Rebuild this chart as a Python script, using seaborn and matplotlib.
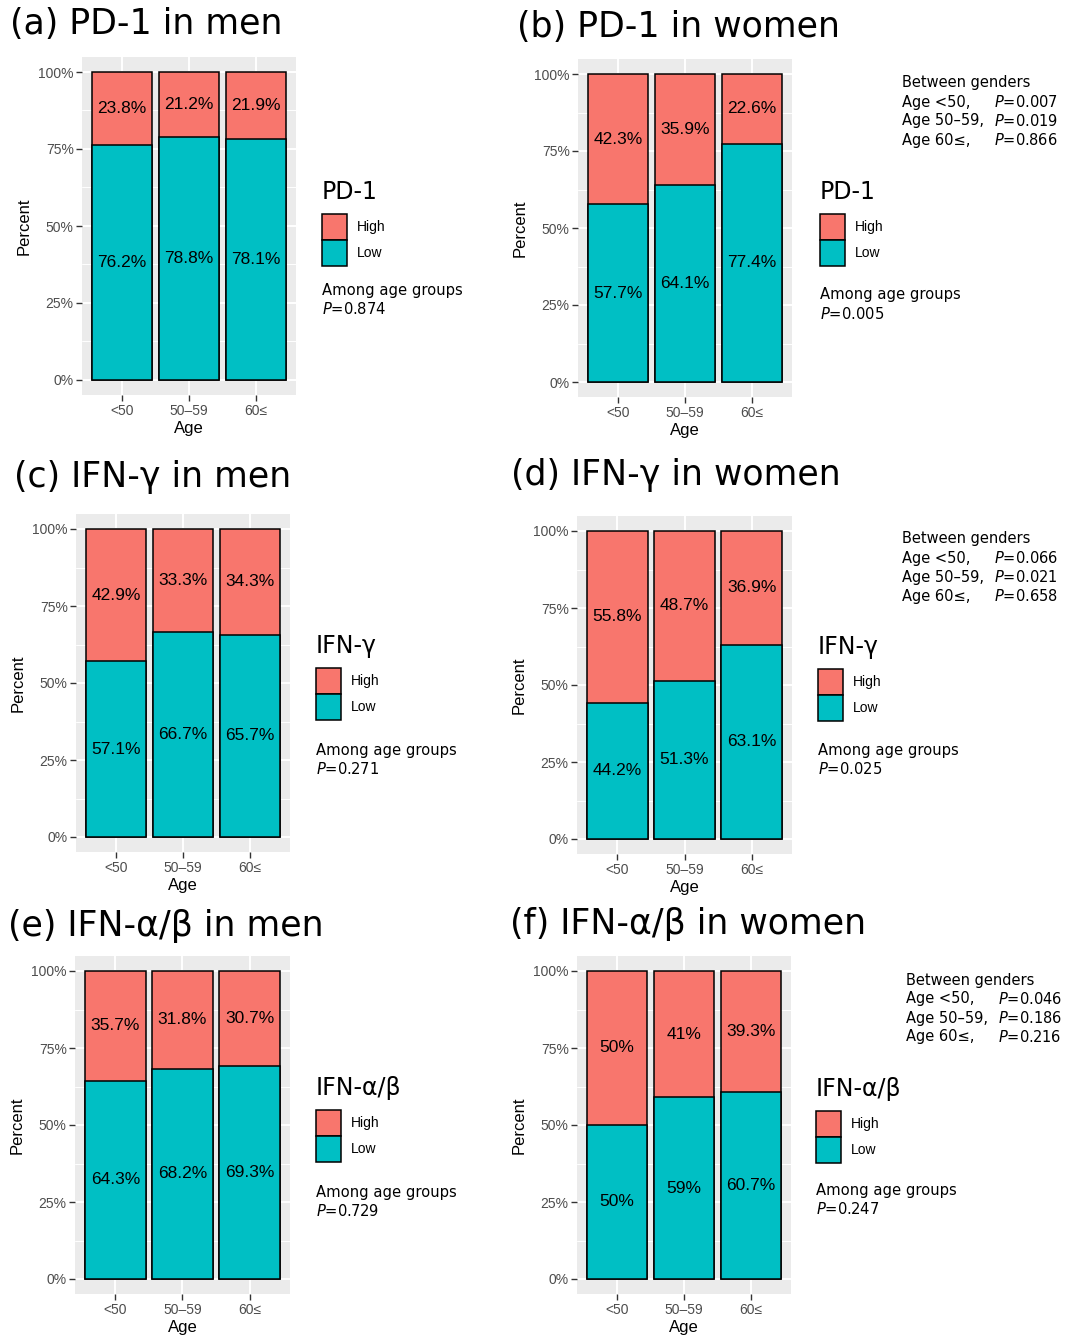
import numpy as np
import pandas as pd
import matplotlib
matplotlib.use("Agg")
import matplotlib.pyplot as plt
from matplotlib.patches import Patch
from matplotlib.ticker import FixedLocator
import seaborn as sns

# ---- data ----
ages = ['<50', '50\u201359', '60\u2264']
between_rows = ['Age <50,', 'Age 50\u201359,', 'Age 60\u2264,']

high_pd1_men = [23.8, 21.2, 21.9]
low_pd1_men = [76.2, 78.8, 78.1]
high_pd1_women = [42.3, 35.9, 22.6]
low_pd1_women = [57.7, 64.1, 77.4]
high_ifng_men = [42.9, 33.3, 34.3]
low_ifng_men = [57.1, 66.7, 65.7]
high_ifng_women = [55.8, 48.7, 36.9]
low_ifng_women = [44.2, 51.3, 63.1]
high_ifnab_men = [35.7, 31.8, 30.7]
low_ifnab_men = [64.3, 68.2, 69.3]
high_ifnab_women = [50, 41, 39.3]
low_ifnab_women = [50, 59, 60.7]

p_among = ['0.874', '0.005', '0.271', '0.025', '0.729', '0.247']
p_between_pd1 = ['0.007', '0.019', '0.866']
p_between_ifng = ['0.066', '0.021', '0.658']
p_between_ifnab = ['0.046', '0.186', '0.216']

RED = '#F8766D'
TEAL = '#00BFC4'

sns.set_style('darkgrid', {'axes.facecolor': '#EBEBEB', 'grid.color': 'white'})
plt.rcParams['font.family'] = ['Liberation Sans', 'DejaVu Sans']
plt.rcParams['mathtext.fontset'] = 'dejavusans'
plt.rcParams['text.color'] = 'black'
plt.rcParams['axes.labelcolor'] = 'black'

W, H = 1080, 1336
fig = plt.figure(figsize=(W / 100, H / 100), dpi=100)
fig.patch.set_facecolor('white')

# layout in pixels: axis box (left, right, y of 100%, y of 0%), title, legend, notes
panels = [
    dict(high=high_pd1_men, low=low_pd1_men, title='(a) PD-1 in men', marker='PD-1',
         box=(82, 296, 72, 380), title_xy=(10, 24), leg_xy=(322, 192), among_y=290, between=None),
    dict(high=high_pd1_women, low=low_pd1_women, title='(b) PD-1 in women', marker='PD-1',
         box=(578, 792, 74, 382), title_xy=(517, 27), leg_xy=(820, 192), among_y=295,
         between=(902, 83, p_between_pd1)),
    dict(high=high_ifng_men, low=low_ifng_men, title='(c) IFN-\u03b3 in men', marker='IFN-\u03b3',
         box=(76, 290, 529, 837), title_xy=(14, 477), leg_xy=(316, 646), among_y=750, between=None),
    dict(high=high_ifng_women, low=low_ifng_women, title='(d) IFN-\u03b3 in women', marker='IFN-\u03b3',
         box=(577, 792, 531, 839), title_xy=(511, 475), leg_xy=(818, 647), among_y=750,
         between=(902, 539, p_between_ifng)),
    dict(high=high_ifnab_men, low=low_ifnab_men, title='(e) IFN-\u03b1/\u03b2 in men', marker='IFN-\u03b1/\u03b2',
         box=(75, 290, 971, 1279), title_xy=(8, 926), leg_xy=(316, 1088), among_y=1192, between=None),
    dict(high=high_ifnab_women, low=low_ifnab_women, title='(f) IFN-\u03b1/\u03b2 in women', marker='IFN-\u03b1/\u03b2',
         box=(577, 791, 971, 1279), title_xy=(510, 924), leg_xy=(816, 1089), among_y=1190,
         between=(906, 980, p_between_ifnab)),
]

for i, p in enumerate(panels):
    left, right, y100, y0 = p['box']
    span = y0 - y100
    top = y100 - 0.05 * span
    bottom = y0 + 0.05 * span
    ax = fig.add_axes([left / W, 1 - bottom / H, (right - left) / W, (bottom - top) / H])

    df = pd.DataFrame({'Age': ages, 'High': p['high'], 'Low': p['low']})
    df['Total'] = (df['High'] + df['Low']) / 100
    df['LowFrac'] = df['Low'] / 100

    sns.barplot(data=df, x='Age', y='Total', color=RED, saturation=1, width=0.9,
                edgecolor='black', linewidth=1.1, ax=ax)
    sns.barplot(data=df, x='Age', y='LowFrac', color=TEAL, saturation=1, width=0.9,
                edgecolor='black', linewidth=1.1, ax=ax)

    for j, (h, l) in enumerate(zip(df['High'], df['Low'])):
        ax.text(j, (l + h / 2) / 100, f'{h:g}%', ha='center', va='center', fontsize=12.5)
        ax.text(j, l / 200, f'{l:g}%', ha='center', va='center', fontsize=12.5)

    ax.set_xlim(-0.6, 2.6)
    ax.set_ylim(-0.05, 1.05)
    ax.set_yticks([0, 0.25, 0.5, 0.75, 1.0])
    ax.set_yticklabels(['0%', '25%', '50%', '75%', '100%'])
    ax.yaxis.set_minor_locator(FixedLocator([0.125, 0.375, 0.625, 0.875]))
    ax.set_axisbelow(True)
    ax.grid(True, which='major', color='white', linewidth=1.4)
    ax.grid(True, which='minor', axis='y', color='white', linewidth=0.7)
    ax.tick_params(which='major', length=4, width=1, color='#333333', labelcolor='#4D4D4D',
                   labelsize=10, pad=2, bottom=True, left=True)
    ax.tick_params(which='minor', length=0)
    for s in ax.spines.values():
        s.set_visible(False)
    ax.set_xlabel('Age', fontsize=12, labelpad=2)
    ax.set_ylabel('Percent', fontsize=12, labelpad=5)

    # panel title
    tx, ty = p['title_xy']
    fig.text(tx / W, 1 - ty / H, p['title'], fontsize=25, family='DejaVu Sans', va='center', ha='left')

    # legend: title as text, keys below
    lx, ly = p['leg_xy']
    fig.text(lx / W, 1 - ly / H, p['marker'], fontsize=17, family='DejaVu Sans', va='center', ha='left')
    handles = [Patch(facecolor=RED, edgecolor='black', linewidth=1.1),
               Patch(facecolor=TEAL, edgecolor='black', linewidth=1.1)]
    fig.legend(handles, ['High', 'Low'], loc='upper left',
               bbox_to_anchor=(lx / W, 1 - (ly + 22) / H), frameon=False,
               borderpad=0, borderaxespad=0, handlelength=1.8, handleheight=2.5,
               labelspacing=0.0, handletextpad=0.7,
               prop={'family': 'Liberation Sans', 'size': 10})

    # among-group p value
    fig.text(lx / W, 1 - p['among_y'] / H, 'Among age groups', fontsize=10.6,
             family='DejaVu Sans', va='center', ha='left')
    fig.text(lx / W, 1 - (p['among_y'] + 19) / H, r'$\it{P}$=' + p_among[i], fontsize=10.6,
             family='DejaVu Sans', va='center', ha='left')

    # between-gender p values
    if p['between'] is not None:
        bx, by, vals = p['between']
        fig.text(bx / W, 1 - by / H, 'Between genders', fontsize=10.5,
                 family='DejaVu Sans', va='center', ha='left')
        for k, (row, v) in enumerate(zip(between_rows, vals)):
            yy = 1 - (by + 19 * (k + 1)) / H
            fig.text(bx / W, yy, row, fontsize=10.5, family='DejaVu Sans', va='center', ha='left')
            fig.text((bx + 92) / W, yy, r'$\it{P}$=' + v, fontsize=10.5,
                     family='DejaVu Sans', va='center', ha='left')

fig.savefig('out.png', dpi=100)
